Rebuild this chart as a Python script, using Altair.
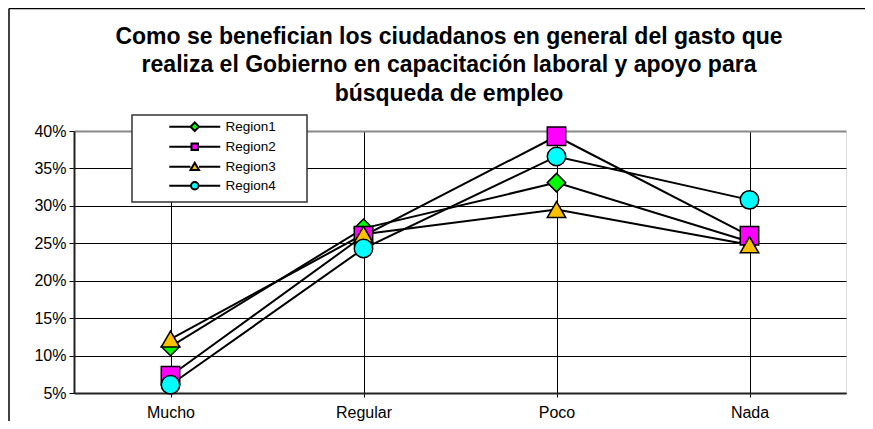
import altair as alt
import pandas as pd

categories = ["Mucho", "Regular", "Poco", "Nada"]
regions = ["Region1", "Region2", "Region3", "Region4"]
region1 = [0.112, 0.270, 0.331, 0.252]
region2 = [0.073, 0.260, 0.393, 0.260]
region3 = [0.122, 0.262, 0.295, 0.248]
region4 = [0.061, 0.243, 0.366, 0.308]
fill_colors = ["#00FF00", "#FF00FF", "#FFC000", "#00FFFF"]
marker_shapes = ["diamond", "square", "triangle-up", "circle"]
y_ticks = [0.05, 0.10, 0.15, 0.20, 0.25, 0.30, 0.35, 0.40]
title_lines = [
    "Como se benefician los ciudadanos en general del gasto que",
    "realiza el Gobierno  en capacitación laboral y apoyo para",
    "búsqueda de empleo",
]

rows = []
for reg, vals in zip(regions, [region1, region2, region3, region4]):
    for cat, v in zip(categories, vals):
        rows.append({"Categoria": cat, "Region": reg, "Valor": v})
df = pd.DataFrame(rows)
leg_df = pd.DataFrame({"Leyenda": regions})

FONT = "Liberation Sans"

# legend symbol paths (line through marker); unit = sqrt(100)/2 = 5px
seg = "M-5.1,0H-0.85M0.85,0H5.1"
legend_paths = [
    seg + "M0,-0.85L0.85,0L0,0.85L-0.85,0Z",
    seg + "M-0.65,-0.65H0.65V0.65H-0.65Z",
    seg + "M0,-0.8L0.85,0.65L-0.85,0.65Z",
    seg + "M-0.75,0A0.75,0.75 0 1,0 0.75,0A0.75,0.75 0 1,0 -0.75,0Z",
]

x_enc = alt.X(
    "Categoria:N",
    sort=categories,
    scale=alt.Scale(paddingInner=0, paddingOuter=0),
    axis=alt.Axis(
        title=None,
        bandPosition=0,
        grid=True,
        gridColor="black",
        gridWidth=1,
        labelAngle=0,
        labelFont=FONT,
        labelFontSize=16,
        labelColor="black",
        labelPadding=7,
        tickSize=4,
        tickColor="black",
        domainColor="#222222",
        domainWidth=2,
    ),
)
y_enc = alt.Y(
    "Valor:Q",
    scale=alt.Scale(domain=[0.05, 0.40], nice=False, zero=False),
    axis=alt.Axis(
        title=None,
        format=".0%",
        values=y_ticks,
        grid=True,
        gridColor=alt.condition("datum.value >= 0.4", alt.value("#888888"), alt.value("black")),
        gridWidth=alt.condition("datum.value >= 0.4", alt.value(2), alt.value(1)),
        labelFont=FONT,
        labelFontSize=16,
        labelColor="black",
        labelPadding=3,
        tickSize=5,
        tickColor="black",
        domainColor="#222222",
        domainWidth=2,
    ),
)

one = pd.DataFrame({"a": [0]})
border_left = alt.Chart(one).mark_rule(color="black", strokeWidth=1.5).encode(
    x=alt.value(-65), y=alt.value(-122.5), y2=alt.value(290)
)
border_top = alt.Chart(one).mark_rule(color="black", strokeWidth=1.5).encode(
    x=alt.value(-65), x2=alt.value(791), y=alt.value(-122.5)
)

legend_box = alt.Chart(one).mark_rect(
    fill="white", stroke="#333333", strokeWidth=1.5
).encode(x=alt.value(58), x2=alt.value(233), y=alt.value(-16), y2=alt.value(71))

lines = alt.Chart(df).mark_line(color="black", strokeWidth=2).encode(
    x=x_enc, y=y_enc, detail="Region:N"
)

points = alt.Chart(df).mark_point(
    filled=True, opacity=1, stroke="black", strokeWidth=1.5, size=340
).encode(
    x=x_enc,
    y=y_enc,
    shape=alt.Shape("Region:N", scale=alt.Scale(domain=regions, range=marker_shapes), legend=None),
    fill=alt.Fill("Region:N", scale=alt.Scale(domain=regions, range=fill_colors), legend=None),
    order=alt.Order("Region:N"),
)

legend_def = alt.Legend(
    title=None,
    orient="none",
    legendX=114,
    legendY=-11,
    padding=0,
    symbolSize=100,
    symbolStrokeWidth=2,
    symbolStrokeColor="black",
    symbolOpacity=1,
    labelFont=FONT,
    labelFontSize=13.5,
    labelColor="black",
    labelOffset=24,
    rowPadding=4,
)

legend_layer = alt.Chart(leg_df).mark_point(
    filled=True, opacity=1, strokeWidth=0, size=0
).encode(
    x=alt.value(100),
    y=alt.value(100),
    shape=alt.Shape("Leyenda:N", scale=alt.Scale(domain=regions, range=legend_paths), legend=legend_def),
    fill=alt.Fill("Leyenda:N", scale=alt.Scale(domain=regions, range=fill_colors), legend=legend_def),
    stroke=alt.Stroke("Leyenda:N", scale=alt.Scale(domain=regions, range=["black"] * 4), legend=legend_def),
)

chart = (
    alt.layer(border_left, border_top, legend_box, lines, points, legend_layer)
    .resolve_scale(shape="independent", fill="independent", stroke="independent")
    .properties(
        width=772,
        height=262,
        autosize=alt.AutoSizeParams(type="none"),
        padding={"left": 66, "top": 123, "right": 19, "bottom": 28},
        title=alt.TitleParams(
            text=title_lines,
            font=FONT,
            fontSize=23,
            fontWeight="bold",
            color="black",
            anchor="middle",
            frame="group",
            dx=-11,
            offset=0,
            dy=98,
            lineHeight=28.5,
        ),
    )
    .configure_view(stroke="#888888", strokeWidth=2)
    .configure(background="white")
)

chart.save("out.html", embed_options={"renderer": "svg", "actions": False})
